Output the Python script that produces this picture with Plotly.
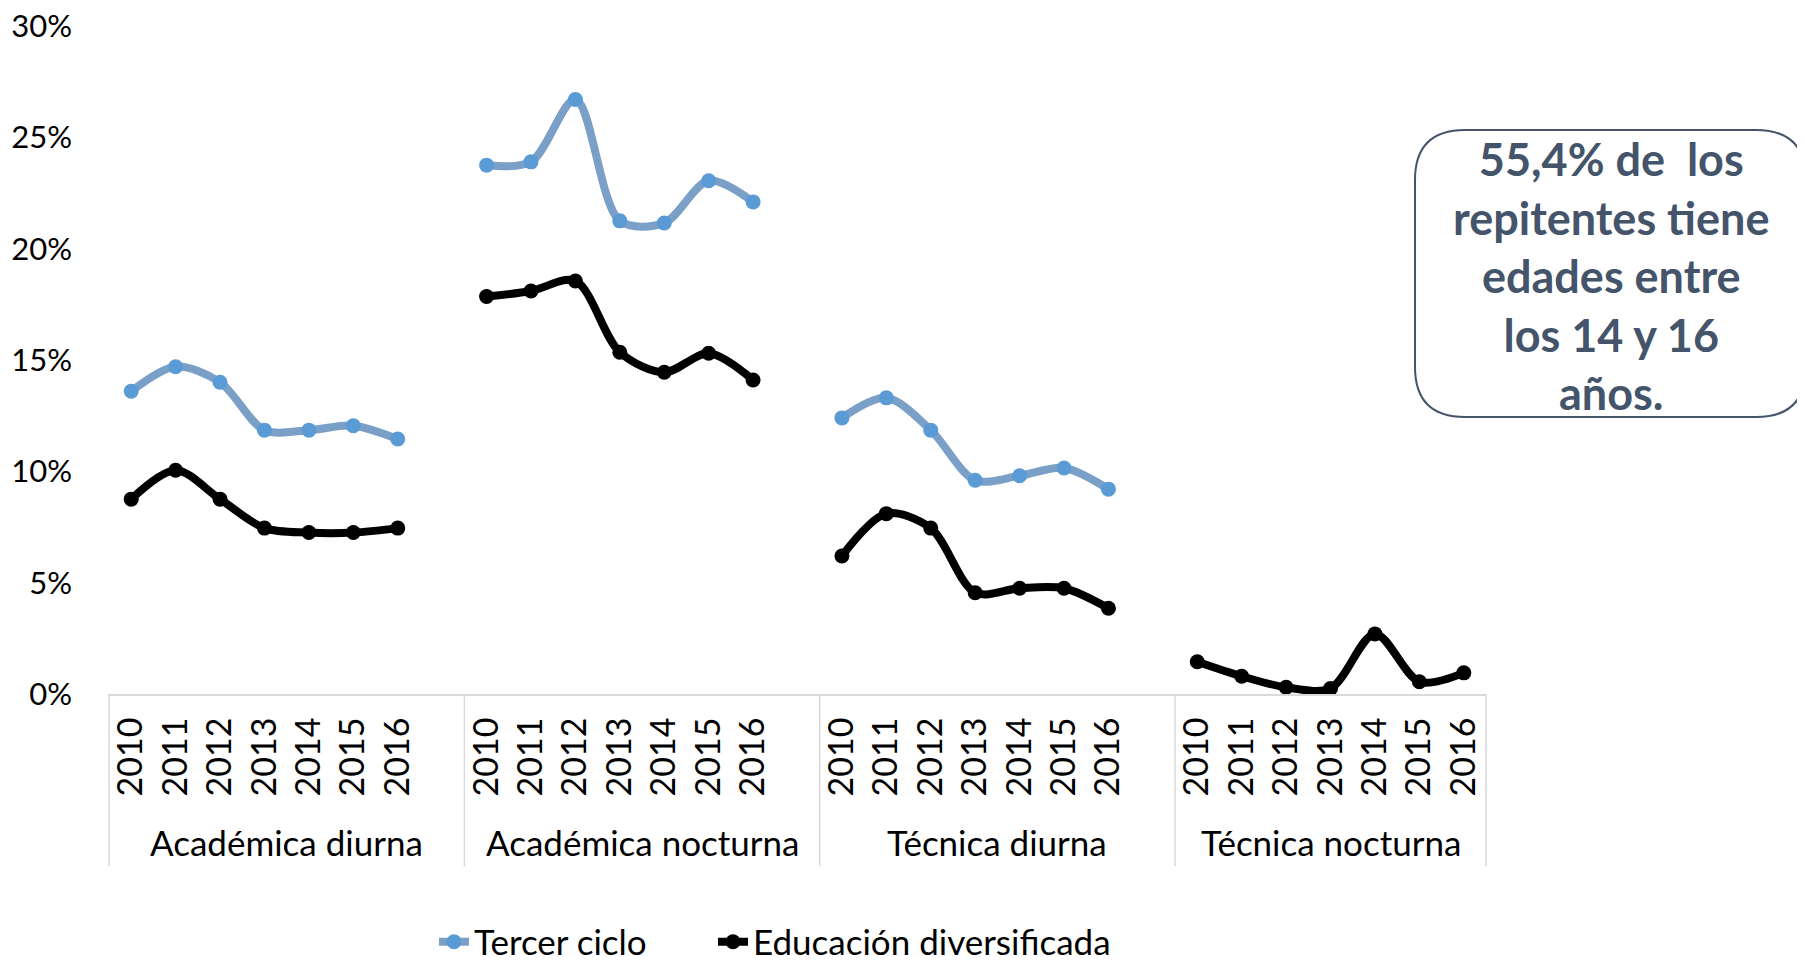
import plotly.graph_objects as go

groups = ["Académica diurna", "Académica nocturna", "Técnica diurna", "Técnica nocturna"]
years = ["2010", "2011", "2012", "2013", "2014", "2015", "2016"]

# porcentajes por modalidad (2010-2016)
tercer_ciclo = [
    [13.6, 14.7, 14.0, 11.85, 11.85, 12.05, 11.45],
    [23.75, 23.9, 26.7, 21.25, 21.15, 23.05, 22.1],
    [12.4, 13.3, 11.85, 9.6, 9.8, 10.15, 9.2],
    [None, None, None, None, None, None, None],
]
educacion_diversificada = [
    [8.75, 10.05, 8.75, 7.45, 7.25, 7.25, 7.45],
    [17.85, 18.1, 18.55, 15.35, 14.45, 15.3, 14.1],
    [6.2, 8.1, 7.45, 4.55, 4.75, 4.75, 3.85],
    [1.45, 0.8, 0.3, 0.25, 2.7, 0.55, 0.95],
]
y_ticks = [0, 5, 10, 15, 20, 25, 30]
note_lines = ["55,4% de  los", "repitentes tiene", "edades entre", "los 14 y 16", "años."]

# each group takes 7 years plus one empty slot (Excel blank row)
slots = len(groups) * (len(years) + 1) - 1
x_pos, tick_txt, y_tc, y_ed = [], [], [], []
for g in range(len(groups)):
    base = g * (len(years) + 1)
    for i, yr in enumerate(years):
        x_pos.append(base + i)
        tick_txt.append(yr)
        y_tc.append(tercer_ciclo[g][i])
        y_ed.append(educacion_diversificada[g][i])
    if g < len(groups) - 1:
        x_pos.append(base + len(years))
        tick_txt.append("")
        y_tc.append(None)
        y_ed.append(None)

FONT = "Lato"
fig = go.Figure()
fig.add_trace(go.Scatter(
    x=x_pos, y=y_tc, name="Tercer ciclo", mode="lines+markers",
    line=dict(color="#7BA0C8", width=8, shape="spline", smoothing=0.9),
    marker=dict(color="#5B9BD5", size=15), connectgaps=False, legendwidth=234,
))
fig.add_trace(go.Scatter(
    x=x_pos, y=y_ed, name="Educación diversificada", mode="lines+markers",
    line=dict(color="#000000", width=8, shape="spline", smoothing=0.9),
    marker=dict(color="#000000", size=15), connectgaps=False, legendwidth=380,
))

# page coords of the plot area; the page body adds an 8px offset
OFF = 8
W, H = 1805 - OFF, 963 - OFF
L, T = 109 - OFF, 26 - OFF
R, B = 1805 - 1486, 963 - 694
pw, ph = W - L - R, H - T - B

def px_x(v):
    return (v - OFF - L) / pw

def px_y(v):
    return (T + ph - (v - OFF)) / ph

shapes = []
bounds = [0] + [(g + 1) * (len(years) + 1) for g in range(len(groups) - 1)] + [slots]
for b in bounds:
    shapes.append(dict(type="line", xref="paper", yref="paper",
                       x0=b / slots, x1=b / slots, y0=0, y1=px_y(866),
                       line=dict(color="#D9D9D9", width=1.5)))

# rounded note box
x0, x1, y0, y1, r = px_x(1415), px_x(1806), px_y(130), px_y(417), 50
rx, ry = r / pw, r / ph
path = (f"M {x0 + rx},{y0} L {x1 - rx},{y0} Q {x1},{y0} {x1},{y0 - ry} "
        f"L {x1},{y1 + ry} Q {x1},{y1} {x1 - rx},{y1} L {x0 + rx},{y1} "
        f"Q {x0},{y1} {x0},{y1 + ry} L {x0},{y0 - ry} Q {x0},{y0} {x0 + rx},{y0} Z")
shapes.append(dict(type="path", xref="paper", yref="paper", path=path,
                   line=dict(color="#44546A", width=2), fillcolor="rgba(0,0,0,0)"))

annotations = []
for g, name in enumerate(groups):
    base = g * (len(years) + 1)
    end = base + len(years) if g < len(groups) - 1 else base + len(years) - 1
    annotations.append(dict(x=(base + end) / 2, xref="x", y=px_y(842), yref="paper",
                            text=name, showarrow=False, xanchor="center", yanchor="middle",
                            font=dict(family=FONT, size=35, color="#000000")))
annotations.append(dict(x=px_x(1612), xref="paper", y=px_y(276), yref="paper",
                        text="<b>" + "<br>".join(note_lines) + "</b>", showarrow=False,
                        xanchor="center", yanchor="middle", align="center",
                        font=dict(family=FONT, size=45, color="#44546A")))

fig.update_layout(
    width=W, height=H,
    margin=dict(l=L, r=R, t=T, b=B, autoexpand=False),
    paper_bgcolor="white", plot_bgcolor="white",
    font=dict(family=FONT, size=34, color="#000000"),
    showlegend=True,
    legend=dict(orientation="h", x=px_x(434), xanchor="left", y=px_y(942), yanchor="middle",
                font=dict(family=FONT, size=35), bgcolor="rgba(0,0,0,0)"),
    shapes=shapes, annotations=annotations,
)
fig.update_xaxes(range=[-0.5, slots - 0.5], tickmode="array", tickvals=x_pos, ticktext=tick_txt,
                 tickangle=-90, showgrid=False, zeroline=False, showline=True,
                 linecolor="#D9D9D9", linewidth=2, ticks="", ticklabelstandoff=8,
                 tickfont=dict(family=FONT, size=34))
fig.update_yaxes(range=[0, 30], tickmode="array", tickvals=y_ticks,
                 ticktext=[f"{v}%" for v in y_ticks], ticklabeloverflow="allow",
                 showgrid=False, zeroline=False, showline=False, ticks="",
                 ticklabelstandoff=36, tickfont=dict(family=FONT, size=31))

fig.write_html("out.html")
